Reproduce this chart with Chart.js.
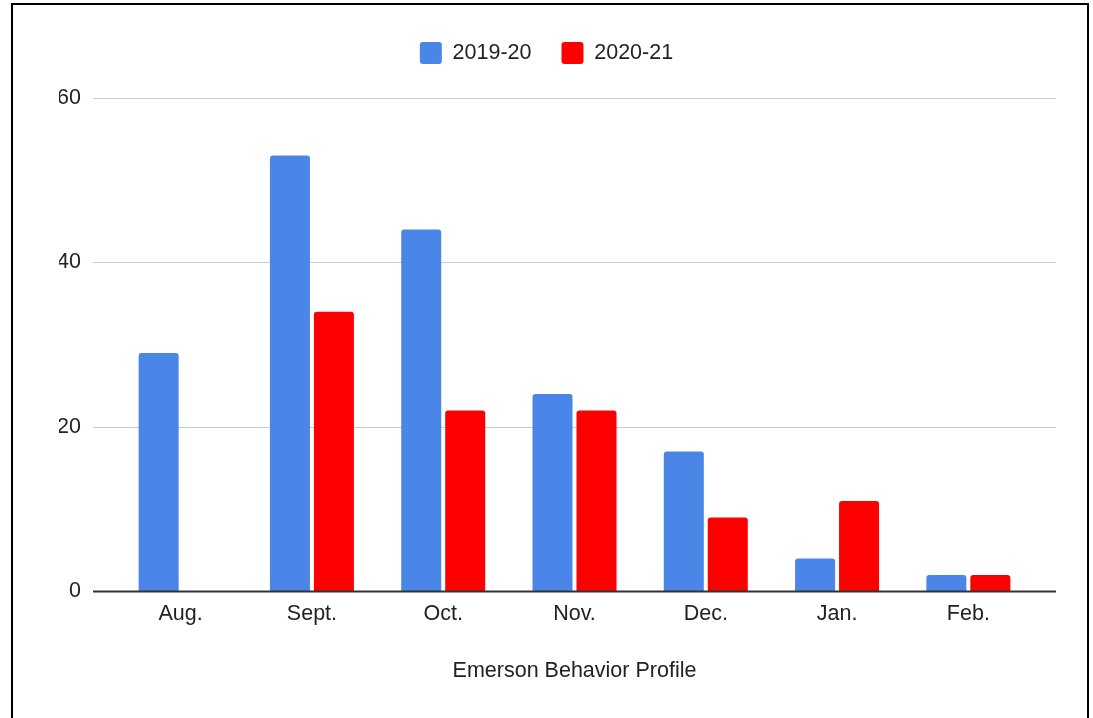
<!DOCTYPE html>
<html>
<head>
<meta charset="utf-8">
<script src="https://cdn.jsdelivr.net/npm/chart.js@4"></script>
<style>
  html, body { margin: 0; padding: 0; background: #fff; overflow: hidden; }
  #wrap { position: absolute; left: 0; top: 0; width: 1093px; height: 718px; }
  #frame { position: absolute; left: 11px; top: 3px; width: 1074px; height: 740px; border: 2px solid #000; pointer-events: none; }
</style>
</head>
<body>
<div id="wrap"><canvas id="myChart"></canvas></div>
<div id="frame"></div>
<script>
// Chart data
const months = ["Aug.", "Sept.", "Oct.", "Nov.", "Dec.", "Jan.", "Feb."];
const year1920 = [29, 53, 44, 24, 17, 4, 2];
const year2021 = [0, 34, 22, 22, 9, 11, 2];
const yTicks = [0, 20, 40, 60];

const fontFamily = "'Liberation Sans', Arial, Helvetica, sans-serif";
const fontSize = 21.5;
const textColor = "#222";

// Grid lines reach a little past the bars on both sides
const extGrid = {
    id: 'extGrid',
    beforeDatasetsDraw(chart) {
        const ctx = chart.ctx;
        const area = chart.chartArea;
        const y = chart.scales.y;
        ctx.save();
        y.ticks.forEach(t => {
            if (t.value === 0) return;
            const py = Math.round(y.getPixelForValue(t.value)) + 0.5;
            ctx.strokeStyle = "#cccccc";
            ctx.lineWidth = 1;
            ctx.beginPath();
            ctx.moveTo(area.left - 22, py);
            ctx.lineTo(area.right + 22, py);
            ctx.stroke();
        });
        ctx.restore();
    },
    afterDatasetsDraw(chart) {
        const ctx = chart.ctx;
        const area = chart.chartArea;
        const py = chart.scales.y.getPixelForValue(0);
        ctx.save();
        ctx.strokeStyle = "#333333";
        ctx.lineWidth = 2;
        ctx.beginPath();
        ctx.moveTo(area.left - 22, py);
        ctx.lineTo(area.right + 22, py);
        ctx.stroke();
        ctx.restore();
    }
};

// Extra room under the legend
const legendGap = {
    id: 'legendGap',
    beforeInit(chart) {
        const origFit = chart.legend.fit;
        chart.legend.fit = function () {
            origFit.bind(chart.legend)();
            this.height += 24;
        };
    }
};

const ctx = document.getElementById('myChart').getContext('2d');
const myChart = new Chart(ctx, {
    type: 'bar',
    data: {
        labels: months,
        datasets: [{
            label: '2019-20',
            data: year1920,
            backgroundColor: '#4a86e8',
            borderRadius: { topLeft: 3, topRight: 3 },
            borderSkipped: 'start'
        }, {
            label: '2020-21',
            data: year2021,
            backgroundColor: '#ff0000',
            borderRadius: { topLeft: 3, topRight: 3 },
            borderSkipped: 'start'
        }]
    },
    options: {
        responsive: true,
        maintainAspectRatio: false,
        animation: false,
        categoryPercentage: 0.67,
        barPercentage: 0.91,
        layout: {
            padding: { left: 59, right: 59, top: 12, bottom: 34 }
        },
        plugins: {
            legend: {
                position: 'top',
                labels: {
                    boxWidth: 22,
                    boxHeight: 22,
                    useBorderRadius: true,
                    borderRadius: 3,
                    padding: 30,
                    color: textColor,
                    font: { family: fontFamily, size: fontSize }
                }
            },
            tooltip: { enabled: false }
        },
        scales: {
            x: {
                grid: { display: false },
                border: { display: false },
                ticks: {
                    color: textColor,
                    padding: 2,
                    font: { family: fontFamily, size: fontSize }
                },
                title: {
                    display: true,
                    text: 'Emerson Behavior Profile',
                    color: textColor,
                    padding: { top: 29, bottom: 0 },
                    font: { family: fontFamily, size: fontSize }
                }
            },
            y: {
                min: 0,
                max: 60,
                grid: { display: false },
                border: { display: false },
                afterFit(scale) { scale.width = 56; },
                afterBuildTicks(scale) {
                    scale.ticks = yTicks.map(v => ({ value: v }));
                },
                ticks: {
                    color: textColor,
                    padding: 26,
                    font: { family: fontFamily, size: fontSize }
                }
            }
        }
    },
    plugins: [extGrid, legendGap]
});
</script>
</body>
</html>
